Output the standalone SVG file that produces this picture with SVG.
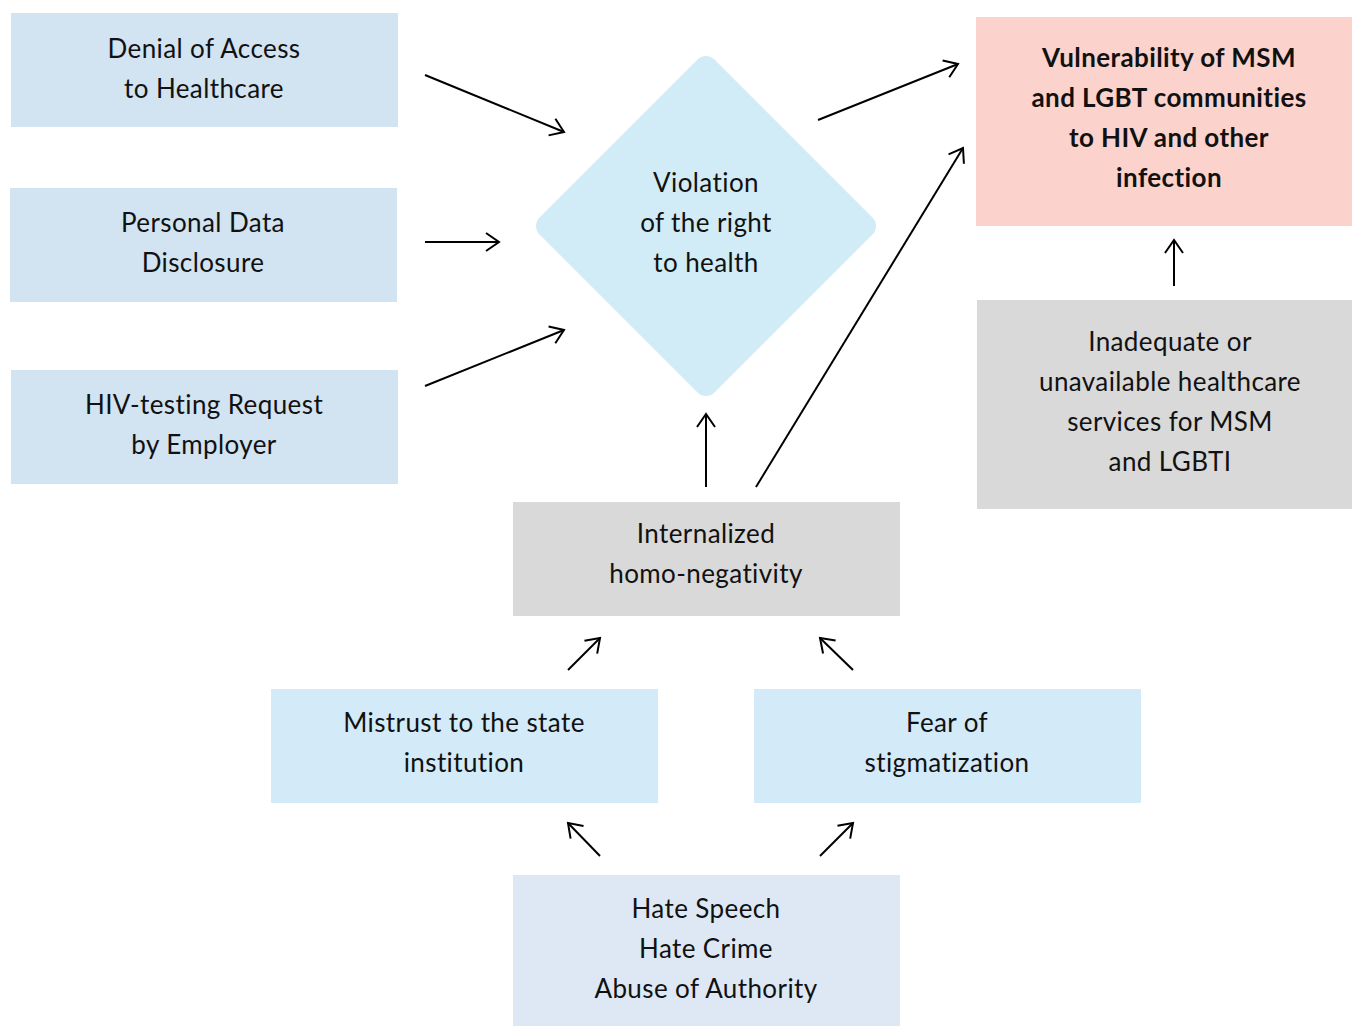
<svg xmlns="http://www.w3.org/2000/svg" width="1352" height="1027" viewBox="0 0 1352 1027">
<style>
text{font-family:"Lato","Open Sans",sans-serif;font-size:26px;letter-spacing:0.4px;fill:#111;text-anchor:middle;dominant-baseline:central}
.b{font-weight:bold}
.blue{fill:#d2e3f1}
.sky{fill:#d3eaf8}
.gray{fill:#d9d9d9}
.pale{fill:#dde8f4}
.pink{fill:#fbd3cc}
.c line{stroke:#000;stroke-width:2;marker-end:url(#ah)}
</style>
<defs>
<marker id="ah" markerUnits="userSpaceOnUse" markerWidth="20" markerHeight="24" viewBox="-16 -12 20 24" refX="0" refY="0" orient="auto">
<path d="M-13,-9 L0,0 L-13,9" fill="none" stroke="#000" stroke-width="2"/>
</marker>
</defs>
<g id="denial"><rect class="blue" x="11" y="13" width="387" height="114"/><text x="204" y="48">Denial of Access</text><text x="204" y="88">to Healthcare</text></g>
<g id="personal"><rect class="blue" x="10" y="188" width="387" height="114"/><text x="203" y="222">Personal Data</text><text x="203" y="262">Disclosure</text></g>
<g id="hivtest"><rect class="blue" x="11" y="370" width="387" height="114"/><text x="204" y="404">HIV-testing Request</text><text x="204" y="444">by Employer</text></g>
<g id="violation"><polygon points="706,68 864,226 706,384 548,226" fill="#d1ecf7" stroke="#d1ecf7" stroke-width="24" stroke-linejoin="round"/><text x="706" y="182">Violation</text><text x="706" y="222">of the right</text><text x="706" y="262">to health</text></g>
<g id="vulnerability"><rect class="pink" x="976" y="17" width="376" height="209"/><text class="b" x="1169" y="57">Vulnerability of MSM</text><text class="b" x="1169" y="97">and LGBT communities</text><text class="b" x="1169" y="137">to HIV and other</text><text class="b" x="1169" y="177">infection</text></g>
<g id="inadequate"><rect class="gray" x="977" y="300" width="375" height="209"/><text x="1170" y="341">Inadequate or</text><text x="1170" y="381">unavailable healthcare</text><text x="1170" y="421">services for MSM</text><text x="1170" y="461">and LGBTI</text></g>
<g id="internalized"><rect class="gray" x="513" y="502" width="387" height="114"/><text x="706" y="533">Internalized</text><text x="706" y="573">homo-negativity</text></g>
<g id="mistrust"><rect class="sky" x="271" y="689" width="387" height="114"/><text x="464" y="722">Mistrust to the state</text><text x="464" y="762">institution</text></g>
<g id="fear"><rect class="sky" x="754" y="689" width="387" height="114"/><text x="947" y="722">Fear of</text><text x="947" y="762">stigmatization</text></g>
<g id="hate"><rect class="pale" x="513" y="875" width="387" height="151"/><text x="706" y="908">Hate Speech</text><text x="706" y="948">Hate Crime</text><text x="706" y="988">Abuse of Authority</text></g>
<g class="c" id="connectors">
<line x1="425" y1="75" x2="564" y2="132"/>
<line x1="425" y1="242" x2="499" y2="242"/>
<line x1="425" y1="386" x2="564" y2="330"/>
<line x1="818" y1="120" x2="958" y2="64"/>
<line x1="756" y1="487" x2="963" y2="148"/>
<line x1="706" y1="487" x2="706" y2="414"/>
<line x1="1174" y1="286" x2="1174" y2="240"/>
<line x1="568" y1="670" x2="600" y2="638"/>
<line x1="853" y1="670" x2="820" y2="638"/>
<line x1="600" y1="856" x2="568" y2="823"/>
<line x1="820" y1="856" x2="853" y2="823"/>
</g>
</svg>
